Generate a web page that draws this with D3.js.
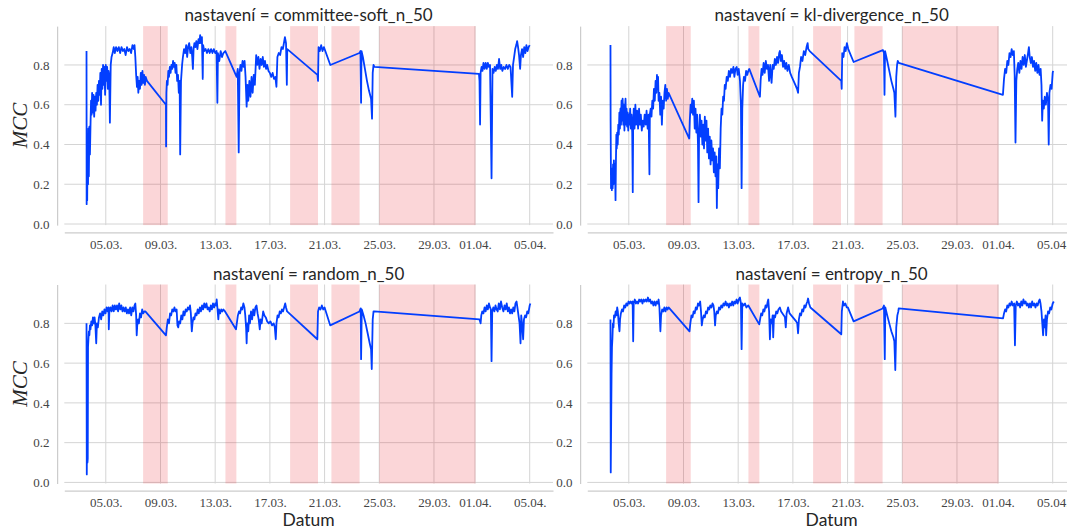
<!DOCTYPE html>
<html>
<head>
<meta charset="utf-8">
<script src="https://cdn.jsdelivr.net/npm/d3@7"></script>
<style>
  body { margin: 0; background: #fff; }
  svg { display: block; }
</style>
</head>
<body>
<svg id="chart" width="1067" height="528"></svg>
<script>
// Samples: [day of March (fractional, 32 = 1 April), MCC]
const committeeSoft = [
  [3.59,0.87],[3.60,0.10],[3.62,0.38],[3.64,0.12],[3.67,0.42],[3.70,0.20],[3.73,0.48],[3.76,0.24],[3.80,0.49],[3.84,0.35],
  [3.88,0.49],[3.92,0.62],[3.96,0.55],[4.00,0.66],[4.05,0.56],[4.10,0.65],[4.15,0.54],[4.20,0.64],[4.25,0.57],[4.30,0.66],
  [4.35,0.60],[4.40,0.70],[4.45,0.62],[4.50,0.72],[4.55,0.65],[4.60,0.76],[4.65,0.60],[4.70,0.78],[4.75,0.68],[4.80,0.80],
  [4.85,0.70],[4.90,0.79],[4.95,0.65],[5.00,0.80],[5.05,0.72],[5.10,0.79],[5.15,0.68],[5.20,0.77],[5.25,0.74],[5.30,0.51],
  [5.36,0.80],[5.42,0.84],[5.50,0.86],[5.58,0.89],[5.66,0.86],[5.75,0.89],[5.85,0.87],[5.95,0.89],[6.05,0.86],[6.15,0.89],
  [6.25,0.87],[6.35,0.88],[6.45,0.85],[6.55,0.89],[6.65,0.87],[6.75,0.88],[6.85,0.86],[6.95,0.90],[7.05,0.88],[7.10,0.90],
  [7.16,0.84],[7.22,0.75],[7.28,0.69],[7.33,0.74],[7.38,0.66],[7.44,0.72],[7.50,0.68],[7.56,0.76],[7.62,0.70],[7.68,0.77],
  [7.74,0.71],[7.80,0.75],[7.86,0.70],[7.92,0.74],[8.01,0.72],[9.40,0.60],[9.41,0.39],[9.43,0.66],[9.47,0.72],[9.52,0.70],
  [9.57,0.77],[9.62,0.74],[9.68,0.79],[9.74,0.76],[9.80,0.80],[9.86,0.78],[9.92,0.82],[9.98,0.79],[10.04,0.81],[10.10,0.76],
  [10.16,0.80],[10.22,0.72],[10.28,0.75],[10.34,0.66],[10.40,0.72],[10.44,0.35],[10.50,0.72],[10.58,0.80],[10.64,0.84],[10.72,0.88],
  [10.80,0.86],[10.88,0.90],[10.95,0.84],[11.02,0.89],[11.10,0.91],[11.18,0.86],[11.26,0.89],[11.32,0.84],[11.37,0.78],[11.42,0.88],
  [11.48,0.91],[11.55,0.89],[11.62,0.92],[11.70,0.88],[11.78,0.93],[11.85,0.91],[11.90,0.95],[11.96,0.91],[12.03,0.94],[12.09,0.73],
  [12.12,0.90],[12.20,0.87],[12.30,0.88],[12.40,0.86],[12.50,0.88],[12.60,0.86],[12.70,0.88],[12.80,0.86],[12.90,0.88],[13.00,0.86],
  [13.10,0.87],[13.16,0.61],[13.20,0.86],[13.30,0.82],[13.40,0.87],[13.50,0.84],[13.60,0.86],[13.74,0.87],[14.57,0.74],[14.65,0.78],
  [14.72,0.36],[14.78,0.76],[14.85,0.80],[14.92,0.77],[15.00,0.82],[15.08,0.79],[15.15,0.82],[15.22,0.74],[15.30,0.59],[15.36,0.70],
  [15.42,0.62],[15.50,0.72],[15.58,0.64],[15.66,0.74],[15.74,0.66],[15.82,0.75],[15.90,0.70],[16.00,0.85],[16.08,0.80],[16.16,0.84],
  [16.24,0.78],[16.32,0.83],[16.40,0.80],[16.48,0.84],[16.56,0.79],[16.64,0.82],[16.72,0.78],[16.80,0.80],[16.90,0.77],[17.00,0.76],
  [17.10,0.74],[17.20,0.76],[17.30,0.73],[17.40,0.74],[17.48,0.69],[17.55,0.84],[17.65,0.86],[17.75,0.85],[17.85,0.89],[17.95,0.88],
  [18.05,0.92],[18.10,0.94],[18.18,0.91],[18.24,0.70],[18.27,0.88],[20.48,0.75],[20.52,0.72],[20.56,0.89],[20.65,0.87],[20.75,0.90],
  [20.85,0.87],[20.95,0.89],[21.00,0.88],[21.42,0.80],[23.55,0.86],[23.62,0.87],[23.67,0.61],[23.70,0.87],[23.80,0.84],[23.95,0.78],
  [24.10,0.72],[24.25,0.67],[24.40,0.63],[24.47,0.53],[24.52,0.76],[24.58,0.80],[24.64,0.79],[32.29,0.755],[32.33,0.72],[32.37,0.50],
  [32.41,0.76],[32.48,0.79],[32.55,0.77],[32.62,0.81],[32.70,0.78],[32.78,0.81],[32.86,0.78],[32.94,0.81],[33.02,0.79],[33.10,0.80],
  [33.21,0.23],[33.28,0.78],[33.36,0.76],[33.44,0.79],[33.52,0.77],[33.60,0.80],[33.68,0.78],[33.76,0.83],[33.84,0.78],[33.92,0.80],
  [34.00,0.77],[34.10,0.79],[34.20,0.78],[34.30,0.80],[34.40,0.78],[34.50,0.80],[34.60,0.79],[34.72,0.64],[34.78,0.80],[34.86,0.84],
  [34.94,0.88],[35.02,0.90],[35.08,0.92],[35.15,0.89],[35.22,0.85],[35.30,0.78],[35.36,0.85],[35.44,0.88],[35.52,0.84],[35.60,0.89],
  [35.68,0.86],[35.76,0.90],[35.84,0.87],[35.92,0.89],[36.00,0.90]
];

const klDivergence = [
  [3.66,0.90],[3.67,0.52],[3.70,0.18],[3.73,0.26],[3.76,0.17],[3.79,0.28],[3.82,0.18],[3.85,0.30],[3.88,0.20],[3.91,0.32],
  [3.95,0.22],[3.99,0.30],[4.03,0.12],[4.06,0.32],[4.09,0.45],[4.12,0.38],[4.15,0.46],[4.19,0.40],[4.23,0.50],[4.27,0.45],
  [4.31,0.56],[4.35,0.48],[4.39,0.58],[4.43,0.50],[4.47,0.62],[4.51,0.52],[4.55,0.63],[4.60,0.50],[4.64,0.60],[4.68,0.47],
  [4.72,0.58],[4.76,0.63],[4.80,0.50],[4.84,0.58],[4.88,0.49],[4.92,0.56],[4.96,0.47],[5.00,0.55],[5.05,0.50],[5.10,0.58],
  [5.15,0.48],[5.20,0.55],[5.25,0.46],[5.29,0.16],[5.32,0.50],[5.36,0.58],[5.42,0.48],[5.48,0.60],[5.54,0.50],[5.61,0.57],
  [5.68,0.48],[5.75,0.58],[5.82,0.50],[5.88,0.55],[5.95,0.47],[6.02,0.52],[6.09,0.49],[6.16,0.55],[6.24,0.50],[6.30,0.57],
  [6.38,0.48],[6.45,0.55],[6.51,0.25],[6.54,0.55],[6.60,0.58],[6.66,0.54],[6.72,0.62],[6.78,0.58],[6.84,0.68],[6.90,0.62],
  [6.96,0.72],[7.02,0.66],[7.06,0.75],[7.10,0.68],[7.14,0.74],[7.18,0.62],[7.24,0.66],[7.30,0.55],[7.36,0.64],[7.42,0.50],
  [7.48,0.62],[7.55,0.58],[7.61,0.66],[7.67,0.70],[7.73,0.62],[7.79,0.68],[7.85,0.63],[7.91,0.66],[9.42,0.43],[9.46,0.52],
  [9.52,0.60],[9.58,0.56],[9.64,0.63],[9.70,0.55],[9.76,0.62],[9.82,0.48],[9.88,0.58],[9.94,0.46],[10.00,0.55],[10.06,0.40],
  [10.10,0.11],[10.14,0.45],[10.20,0.55],[10.26,0.44],[10.32,0.52],[10.38,0.40],[10.44,0.50],[10.50,0.38],[10.56,0.54],[10.62,0.42],
  [10.68,0.52],[10.74,0.36],[10.80,0.48],[10.86,0.33],[10.92,0.44],[10.98,0.30],[11.04,0.42],[11.10,0.32],[11.16,0.38],[11.22,0.26],
  [11.28,0.36],[11.34,0.24],[11.40,0.34],[11.44,0.08],[11.48,0.30],[11.54,0.18],[11.60,0.38],[11.66,0.28],[11.72,0.48],[11.78,0.58],
  [11.84,0.55],[11.90,0.64],[11.96,0.62],[12.02,0.70],[12.08,0.68],[12.16,0.74],[12.24,0.72],[12.32,0.77],[12.40,0.74],[12.48,0.78],
  [12.56,0.76],[12.65,0.79],[12.72,0.74],[12.80,0.78],[12.89,0.79],[12.96,0.75],[13.04,0.78],[13.13,0.72],[13.20,0.60],[13.25,0.18],
  [13.30,0.58],[13.36,0.70],[13.42,0.74],[13.50,0.72],[13.58,0.77],[13.66,0.75],[13.74,0.77],[13.81,0.78],[14.59,0.64],[14.64,0.72],
  [14.71,0.78],[14.78,0.75],[14.86,0.81],[14.94,0.76],[15.02,0.82],[15.10,0.78],[15.18,0.80],[15.26,0.72],[15.34,0.80],[15.44,0.71],
  [15.52,0.80],[15.60,0.78],[15.68,0.83],[15.76,0.80],[15.84,0.84],[15.92,0.81],[16.00,0.86],[16.05,0.87],[16.12,0.82],[16.20,0.85],
  [16.28,0.79],[16.36,0.82],[16.44,0.78],[16.52,0.81],[16.60,0.77],[16.70,0.80],[16.80,0.76],[16.92,0.74],[17.05,0.72],[17.18,0.70],
  [17.30,0.68],[17.38,0.66],[17.44,0.76],[17.52,0.79],[17.60,0.84],[17.70,0.82],[17.80,0.87],[17.90,0.85],[18.00,0.89],[18.08,0.91],
  [18.12,0.88],[18.23,0.87],[20.54,0.72],[20.57,0.68],[20.61,0.86],[20.70,0.84],[20.78,0.89],[20.86,0.87],[20.95,0.91],[21.05,0.88],
  [21.44,0.815],[23.58,0.875],[23.66,0.86],[23.70,0.65],[23.74,0.87],[23.90,0.82],[24.05,0.77],[24.20,0.72],[24.35,0.68],[24.42,0.66],
  [24.50,0.54],[24.56,0.74],[24.62,0.80],[24.67,0.82],[24.74,0.81],[32.36,0.65],[32.44,0.73],[32.52,0.78],[32.60,0.76],[32.68,0.82],
  [32.76,0.80],[32.84,0.86],[32.92,0.84],[33.00,0.88],[33.08,0.85],[33.16,0.87],[33.22,0.75],[33.28,0.41],[33.34,0.72],[33.41,0.78],
  [33.48,0.81],[33.56,0.76],[33.64,0.82],[33.72,0.78],[33.80,0.84],[33.88,0.80],[33.96,0.85],[34.04,0.79],[34.13,0.83],[34.20,0.86],
  [34.26,0.89],[34.32,0.84],[34.40,0.81],[34.48,0.84],[34.56,0.79],[34.64,0.82],[34.72,0.77],[34.80,0.81],[34.88,0.76],[34.96,0.80],
  [35.04,0.75],[35.12,0.78],[35.18,0.70],[35.23,0.52],[35.28,0.62],[35.35,0.58],[35.42,0.64],[35.50,0.60],[35.58,0.66],[35.66,0.62],
  [35.71,0.40],[35.76,0.66],[35.84,0.70],[35.92,0.68],[36.00,0.76],[36.03,0.77]
];

const randomSampling = [
  [3.59,0.80],[3.61,0.04],[3.64,0.45],[3.66,0.10],[3.68,0.12],[3.70,0.68],[3.73,0.72],[3.76,0.76],[3.80,0.74],[3.84,0.79],
  [3.88,0.77],[3.94,0.81],[4.00,0.79],[4.06,0.83],[4.12,0.80],[4.18,0.83],[4.24,0.79],[4.30,0.70],[4.35,0.80],[4.42,0.78],
  [4.50,0.83],[4.58,0.85],[4.66,0.82],[4.74,0.86],[4.82,0.84],[4.90,0.87],[4.98,0.85],[5.06,0.88],[5.14,0.86],[5.20,0.88],
  [5.22,0.77],[5.26,0.86],[5.34,0.88],[5.42,0.86],[5.50,0.89],[5.58,0.86],[5.66,0.89],[5.74,0.87],[5.82,0.89],[5.90,0.86],
  [5.98,0.90],[6.06,0.87],[6.14,0.89],[6.22,0.86],[6.30,0.88],[6.38,0.86],[6.46,0.88],[6.54,0.85],[6.62,0.87],[6.70,0.85],
  [6.78,0.88],[6.86,0.84],[6.94,0.88],[7.02,0.86],[7.10,0.89],[7.16,0.90],[7.22,0.84],[7.26,0.74],[7.30,0.79],[7.36,0.82],
  [7.42,0.80],[7.50,0.85],[7.58,0.83],[7.66,0.87],[7.74,0.85],[7.82,0.86],[7.89,0.86],[9.40,0.74],[9.46,0.78],[9.54,0.82],
  [9.62,0.80],[9.70,0.85],[9.78,0.84],[9.86,0.87],[9.94,0.86],[10.02,0.88],[10.10,0.86],[10.18,0.87],[10.24,0.79],[10.30,0.78],
  [10.36,0.81],[10.44,0.80],[10.52,0.84],[10.60,0.82],[10.68,0.86],[10.76,0.84],[10.84,0.87],[10.92,0.86],[11.00,0.88],[11.08,0.87],
  [11.16,0.89],[11.22,0.85],[11.29,0.76],[11.34,0.80],[11.41,0.83],[11.48,0.82],[11.56,0.85],[11.64,0.84],[11.72,0.87],[11.80,0.85],
  [11.88,0.88],[11.96,0.86],[12.04,0.89],[12.12,0.87],[12.20,0.90],[12.28,0.88],[12.36,0.90],[12.44,0.87],[12.52,0.88],[12.60,0.86],
  [12.68,0.89],[12.76,0.87],[12.84,0.90],[12.92,0.88],[13.00,0.90],[13.08,0.89],[13.11,0.92],[13.16,0.88],[13.23,0.82],[13.28,0.87],
  [13.36,0.85],[13.44,0.87],[13.52,0.86],[13.60,0.87],[13.72,0.86],[14.52,0.77],[14.58,0.80],[14.66,0.84],[14.74,0.86],[14.82,0.85],
  [14.90,0.88],[14.98,0.87],[15.06,0.90],[15.14,0.88],[15.20,0.84],[15.26,0.78],[15.30,0.70],[15.34,0.80],[15.42,0.76],[15.48,0.84],
  [15.54,0.80],[15.62,0.86],[15.70,0.82],[15.78,0.87],[15.86,0.84],[15.94,0.88],[16.02,0.89],[16.10,0.85],[16.18,0.82],[16.26,0.77],
  [16.32,0.82],[16.40,0.80],[16.51,0.86],[16.60,0.84],[16.70,0.83],[16.80,0.81],[16.92,0.80],[17.04,0.81],[17.16,0.79],[17.28,0.80],
  [17.36,0.78],[17.43,0.72],[17.48,0.80],[17.56,0.84],[17.64,0.83],[17.72,0.86],[17.80,0.85],[17.88,0.87],[17.96,0.86],[18.04,0.88],
  [18.12,0.90],[18.18,0.88],[18.26,0.86],[20.47,0.72],[20.52,0.86],[20.60,0.88],[20.70,0.87],[20.80,0.89],[20.90,0.87],[21.00,0.88],
  [21.41,0.79],[23.55,0.86],[23.64,0.875],[23.67,0.62],[23.72,0.87],[23.85,0.84],[24.00,0.80],[24.15,0.75],[24.30,0.70],[24.40,0.67],
  [24.45,0.57],[24.52,0.82],[24.58,0.86],[24.64,0.86],[32.33,0.82],[32.41,0.80],[32.46,0.84],[32.53,0.86],[32.62,0.85],[32.70,0.88],
  [32.78,0.86],[32.86,0.89],[32.94,0.87],[33.02,0.90],[33.10,0.88],[33.16,0.87],[33.21,0.61],[33.26,0.86],[33.34,0.88],[33.42,0.86],
  [33.50,0.89],[33.58,0.87],[33.66,0.86],[33.74,0.90],[33.82,0.87],[33.90,0.91],[33.99,0.88],[34.08,0.86],[34.16,0.89],[34.24,0.87],
  [34.32,0.90],[34.40,0.86],[34.48,0.88],[34.56,0.85],[34.64,0.87],[34.72,0.85],[34.80,0.88],[34.88,0.86],[34.96,0.90],[35.04,0.91],
  [35.10,0.88],[35.18,0.84],[35.26,0.80],[35.33,0.70],[35.38,0.84],[35.44,0.80],[35.52,0.72],[35.58,0.82],[35.66,0.84],[35.74,0.83],
  [35.82,0.86],[35.90,0.85],[36.00,0.89],[36.05,0.90]
];

const entropy = [
  [3.66,0.82],[3.68,0.05],[3.71,0.30],[3.74,0.55],[3.77,0.68],[3.80,0.72],[3.84,0.80],[3.88,0.78],[3.92,0.84],[3.98,0.83],
  [4.04,0.86],[4.10,0.84],[4.15,0.88],[4.20,0.86],[4.26,0.80],[4.32,0.76],[4.36,0.82],[4.42,0.85],[4.50,0.87],[4.58,0.86],
  [4.66,0.89],[4.74,0.88],[4.82,0.90],[4.90,0.89],[4.98,0.91],[5.06,0.90],[5.14,0.91],[5.22,0.90],[5.28,0.91],[5.32,0.71],
  [5.36,0.90],[5.44,0.92],[5.52,0.90],[5.60,0.91],[5.68,0.90],[5.76,0.92],[5.84,0.91],[5.92,0.92],[6.00,0.90],[6.08,0.92],
  [6.16,0.91],[6.24,0.92],[6.32,0.91],[6.40,0.93],[6.48,0.91],[6.56,0.92],[6.64,0.90],[6.72,0.91],[6.80,0.89],[6.88,0.91],
  [6.96,0.89],[7.04,0.91],[7.12,0.90],[7.18,0.92],[7.24,0.88],[7.31,0.76],[7.36,0.84],[7.44,0.87],[7.52,0.86],[7.60,0.88],
  [7.68,0.86],[7.76,0.88],[7.84,0.87],[7.91,0.88],[9.44,0.76],[9.50,0.80],[9.58,0.84],[9.66,0.83],[9.74,0.86],[9.82,0.85],
  [9.90,0.88],[9.98,0.87],[10.06,0.90],[10.14,0.89],[10.22,0.91],[10.28,0.86],[10.34,0.79],[10.40,0.82],[10.48,0.84],[10.56,0.83],
  [10.64,0.86],[10.72,0.85],[10.80,0.88],[10.88,0.87],[10.96,0.89],[11.04,0.88],[11.12,0.90],[11.19,0.89],[11.25,0.86],[11.31,0.79],
  [11.36,0.84],[11.44,0.86],[11.52,0.85],[11.60,0.88],[11.68,0.87],[11.76,0.89],[11.84,0.88],[11.92,0.90],[12.00,0.89],[12.08,0.91],
  [12.16,0.89],[12.24,0.90],[12.32,0.88],[12.40,0.90],[12.48,0.89],[12.56,0.91],[12.64,0.89],[12.72,0.91],[12.80,0.90],[12.88,0.92],
  [12.96,0.90],[13.04,0.92],[13.13,0.93],[13.20,0.90],[13.25,0.67],[13.30,0.90],[13.40,0.89],[13.50,0.90],[13.60,0.88],[13.74,0.89],
  [14.54,0.795],[14.60,0.82],[14.68,0.85],[14.76,0.84],[14.84,0.87],[14.92,0.86],[15.00,0.89],[15.08,0.88],[15.16,0.91],[15.20,0.92],
  [15.26,0.86],[15.32,0.72],[15.38,0.82],[15.46,0.80],[15.52,0.84],[15.56,0.73],[15.62,0.84],[15.70,0.83],[15.78,0.86],[15.86,0.85],
  [15.94,0.87],[16.05,0.88],[16.14,0.86],[16.24,0.85],[16.34,0.84],[16.42,0.83],[16.48,0.78],[16.54,0.85],[16.65,0.88],[16.76,0.85],
  [16.88,0.84],[17.00,0.83],[17.12,0.82],[17.24,0.81],[17.32,0.80],[17.38,0.75],[17.44,0.82],[17.52,0.85],[17.60,0.84],[17.68,0.87],
  [17.76,0.86],[17.84,0.89],[17.92,0.88],[18.00,0.90],[18.06,0.91],[18.11,0.925],[18.18,0.90],[18.28,0.88],[20.54,0.745],[20.58,0.86],
  [20.66,0.91],[20.74,0.89],[20.84,0.90],[20.94,0.88],[21.02,0.88],[21.44,0.81],[23.57,0.875],[23.66,0.89],[23.72,0.62],[23.76,0.88],
  [23.90,0.84],[24.05,0.80],[24.20,0.76],[24.35,0.73],[24.42,0.71],[24.49,0.565],[24.56,0.78],[24.64,0.84],[24.71,0.86],[24.74,0.875],
  [32.37,0.825],[32.44,0.85],[32.52,0.87],[32.60,0.86],[32.68,0.89],[32.76,0.88],[32.84,0.90],[32.92,0.89],[33.00,0.91],[33.08,0.89],
  [33.18,0.90],[33.24,0.69],[33.30,0.89],[33.38,0.91],[33.46,0.89],[33.54,0.90],[33.62,0.88],[33.70,0.91],[33.78,0.89],[33.86,0.92],
  [33.94,0.90],[34.02,0.91],[34.10,0.89],[34.18,0.90],[34.26,0.88],[34.34,0.90],[34.42,0.88],[34.50,0.91],[34.58,0.89],[34.66,0.90],
  [34.74,0.88],[34.82,0.90],[34.90,0.89],[34.98,0.91],[35.05,0.92],[35.11,0.90],[35.18,0.86],[35.24,0.80],[35.30,0.74],[35.36,0.82],
  [35.42,0.78],[35.48,0.84],[35.52,0.74],[35.58,0.82],[35.66,0.86],[35.74,0.85],[35.82,0.88],[35.90,0.87],[36.00,0.90],[36.08,0.91]
];

const settingNames = ["committee-soft_n_50", "kl-divergence_n_50", "random_n_50", "entropy_n_50"];
const settingSeries = [committeeSoft, klDivergence, randomSampling, entropy];

// Highlighted periods, [start, end] in day of March
const shadedPeriods = [[7.73, 9.53], [13.75, 14.55], [18.48, 20.52], [21.50, 23.56], [25.00, 32.04]];

// Date ticks (day of March) and MCC ticks
const xTickDays = [5, 9, 13, 17, 21, 25, 29, 32, 36];
const yTickValues = [0.0, 0.2, 0.4, 0.6, 0.8];

const toDate = d => new Date(Date.UTC(2024, 2, 1) + (d - 1) * 864e5);

const svg = d3.select("#chart");
const W = 488.7, H = 199;
const colLeft = [64.3, 587.3];
const rowTop = [26.1, 284.5];
const spineOffset = 7.2;

const gridColor = "#d4d4d4";
const spineColor = "#cccccc";
const textColor = "#262626";
const tickColor = "#444444";
const lineColor = "#023eff";

// Shared limits with 5% padding on both axes
const allPts = settingSeries.flat();
const dExt = d3.extent(allPts, d => d[0]);
const vExt = d3.extent(allPts, d => d[1]);
const dPad = (dExt[1] - dExt[0]) * 0.05;
const vPad = (vExt[1] - vExt[0]) * 0.05;

const x = d3.scaleUtc()
  .domain([toDate(dExt[0] - dPad), toDate(dExt[1] + dPad)])
  .range([0, W]);
const y = d3.scaleLinear()
  .domain([vExt[0] - vPad, vExt[1] + vPad])
  .range([H, 0]);

const fmtDate = d3.utcFormat("%d.%m.");
const xTicks = xTickDays.map(toDate);

settingSeries.forEach((series, i) => {
  const col = i % 2, row = Math.floor(i / 2);
  const g = svg.append("g").attr("transform", `translate(${colLeft[col]},${rowTop[row]})`);

  // grid
  g.append("g").selectAll("line").data(yTickValues).join("line")
    .attr("x1", 0).attr("x2", W)
    .attr("y1", d => y(d)).attr("y2", d => y(d))
    .attr("stroke", gridColor).attr("stroke-width", 1);
  g.append("g").selectAll("line").data(xTicks).join("line")
    .attr("x1", d => x(d)).attr("x2", d => x(d))
    .attr("y1", 0).attr("y2", H)
    .attr("stroke", gridColor).attr("stroke-width", 1);

  // shaded periods
  g.append("g").selectAll("rect").data(shadedPeriods).join("rect")
    .attr("x", d => x(toDate(d[0])))
    .attr("width", d => x(toDate(d[1])) - x(toDate(d[0])))
    .attr("y", 0).attr("height", H)
    .attr("fill", "#e8000b").attr("fill-opacity", 0.16);

  // series line
  const line = d3.line().x(d => x(toDate(d[0]))).y(d => y(d[1]));
  g.append("path").datum(series)
    .attr("d", line)
    .attr("fill", "none")
    .attr("stroke", lineColor)
    .attr("stroke-width", 1.8)
    .attr("stroke-linejoin", "round");

  // axes (offset spines)
  const yAxis = g.append("g").attr("transform", `translate(${-spineOffset},0)`)
    .call(d3.axisLeft(y).tickValues(yTickValues).tickFormat(d3.format(".1f")).tickSize(0).tickSizeOuter(0).tickPadding(7.7));
  const xAxis = g.append("g").attr("transform", `translate(0,${H + spineOffset})`)
    .call(d3.axisBottom(x).tickValues(xTicks).tickFormat(fmtDate).tickSize(0).tickSizeOuter(0).tickPadding(7.4));
  [yAxis, xAxis].forEach(a => {
    a.select(".domain").attr("stroke", spineColor).attr("stroke-width", 1.25);
    a.selectAll("text")
      .attr("fill", tickColor)
      .style("font-family", "'Liberation Serif', 'DejaVu Serif', serif")
      .style("font-size", "13px");
  });

  // title
  g.append("text")
    .attr("x", W / 2).attr("y", -4.8)
    .attr("text-anchor", "middle")
    .attr("fill", textColor)
    .style("font-family", "Lato, 'DejaVu Sans', sans-serif")
    .style("font-size", "17px")
    .text(`nastavení = ${settingNames[i]}`);

  if (col === 0) {
    g.append("text")
      .attr("transform", `translate(${20 - colLeft[0]},${H / 2}) rotate(-90)`)
      .attr("text-anchor", "middle")
      .attr("dominant-baseline", "central")
      .attr("fill", textColor)
      .style("font-family", "'Liberation Serif', 'DejaVu Serif', serif")
      .style("font-style", "italic")
      .style("font-size", "21px")
      .text("MCC");
  }
  if (row === 1) {
    g.append("text")
      .attr("x", W / 2).attr("y", 526.3 - rowTop[1])
      .attr("text-anchor", "middle")
      .attr("fill", textColor)
      .style("font-family", "Lato, 'DejaVu Sans', sans-serif")
      .style("font-size", "17.5px")
      .text("Datum");
  }
});
</script>
</body>
</html>
